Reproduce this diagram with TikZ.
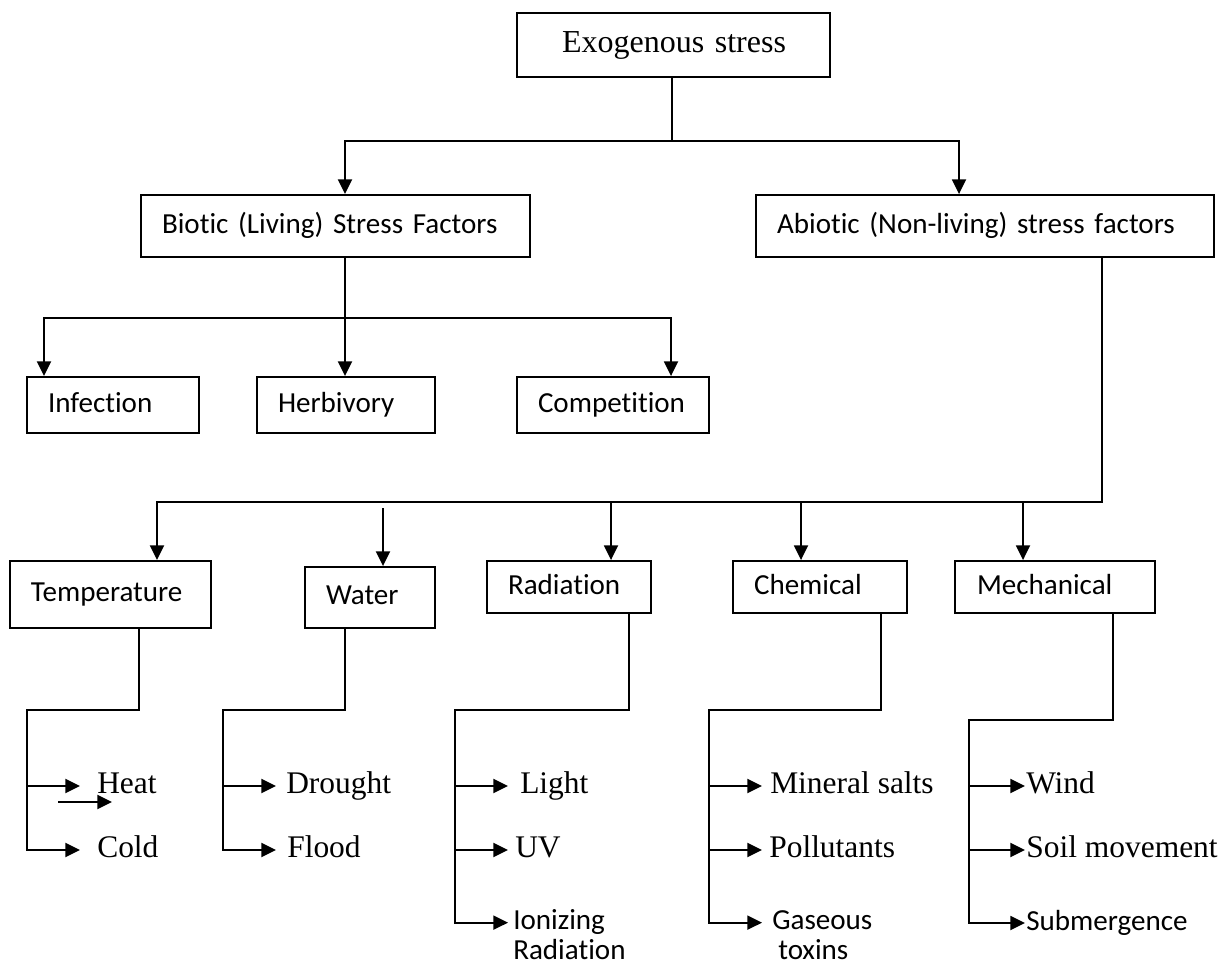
\documentclass[tikz,border=0pt]{standalone}
\usepackage{fontspec}
\setmainfont{Liberation Serif}
\newfontfamily\calfont[Ligatures=NoCommon]{Carlito}
\usetikzlibrary{arrows.meta}
\begin{document}
\begin{tikzpicture}[x=0.75pt, y=-0.75pt,
  ln/.style={line width=1.4pt},
  arr/.style={ln, -{Triangle[length=11pt,width=10.5pt]}},
  bx/.style={draw, line width=1.4pt, rectangle, inner ysep=0pt, align=left},
  tim/.style={font=\fontsize{23.6pt}{28.3pt}\selectfont},
  exof/.style={font=\fontsize{24pt}{28.8pt}\selectfont},
  cal/.style={font=\calfont\fontsize{21.8pt}{26.5pt}\selectfont},
  leaf/.style={inner ysep=0pt, anchor=west},
  leaf2/.style={inner ysep=0pt, anchor=north west, align=left}
]
\useasboundingbox (0,0) rectangle (1225,966);

% boxes
\node[bx, exof, minimum height=48pt, text width=167.25pt, inner xsep=33.75pt] (exo) at (673.5,45) {\mbox{\strut Exogenous stress}};
\node[bx, cal, minimum height=46.5pt, text width=260.25pt, inner xsep=15.75pt] (bio) at (335.5,226) {\mbox{\strut Biotic (Living) Stress Factors}};
\node[bx, cal, minimum height=46.5pt, text width=312pt, inner xsep=15.75pt] (abio) at (985,226) {\mbox{\strut Abiotic (Non-living) stress factors}};
\node[bx, cal, minimum height=42pt, text width=97.5pt, inner xsep=15.75pt] (inf) at (113,405) {\mbox{\strut Infection}};
\node[bx, cal, minimum height=42pt, text width=102pt, inner xsep=15.75pt] (herb) at (346,405) {\mbox{\strut Herbivory}};
\node[bx, cal, minimum height=42pt, text width=112.5pt, inner xsep=15.75pt] (comp) at (613,405) {\mbox{\strut Competition}};
\node[bx, cal, minimum height=50.25pt, text width=119.25pt, inner xsep=15.75pt] (temp) at (110.5,594.5) {\mbox{\strut Temperature}};
\node[bx, cal, minimum height=45.75pt, text width=66pt, inner xsep=15.75pt] (water) at (370,597.5) {\mbox{\strut Water}};
\node[bx, cal, minimum height=39pt, text width=91.5pt, inner xsep=15.75pt] (rad) at (569,587) {\mbox{\strut Radiation}};
\node[bx, cal, minimum height=39pt, text width=99pt, inner xsep=15.75pt] (chem) at (820,587) {\mbox{\strut Chemical}};
\node[bx, cal, minimum height=39pt, text width=117pt, inner xsep=16.5pt] (mech) at (1055,587) {\mbox{\strut Mechanical}};

% junction coordinates
\coordinate (t0) at (672,141);
\coordinate (bA) at (345,141);
\coordinate (aA) at (959,141);
\coordinate (b0) at (345,318);
\coordinate (bi) at (44,318);
\coordinate (bc) at (671,318);
\coordinate (a0) at (1102,502);
\coordinate (at) at (157,502);
\coordinate (ar) at (611,502);
\coordinate (ac) at (801,502);
\coordinate (am) at (1023,502);
\coordinate (aw) at (383,508);

% top level connectors
\draw[arr] (exo.south -| t0) -- (t0) -- (bA) -- (bA |- bio.north);
\draw[arr] (t0) -- (aA) -- (aA |- abio.north);
% biotic
\draw[arr] (bio.south -| b0) -- (b0) -- (bi) -- (bi |- inf.north);
\draw[arr] (b0) -- (herb.north -| b0);
\draw[arr] (b0) -- (bc) -- (bc |- comp.north);
% abiotic
\draw[arr] (abio.south -| a0) -- (a0) -- (at) -- (at |- temp.north);
\draw[arr] (ar) -- (ar |- rad.north);
\draw[arr] (ac) -- (ac |- chem.north);
\draw[arr] (am) -- (am |- mech.north);
\draw[arr] (aw) -- (aw |- water.north);

% leaf texts
\node[leaf, tim, inner xsep=12.75pt] (heat) at (80,786) {\strut Heat};
\node[leaf, tim, inner xsep=12.75pt] (cold) at (80,850) {\strut Cold};
\node[leaf, tim, inner xsep=7.5pt] (drought) at (276,786) {\strut Drought};
\node[leaf, tim, inner xsep=8.25pt] (flood) at (276,850) {\strut Flood};
\node[leaf, tim, inner xsep=9pt] (light) at (508,786) {\strut Light};
\node[leaf, tim, inner xsep=5.25pt] (uv) at (508,850) {\strut UV};
\node[leaf2, cal, inner xsep=3.75pt] (ion) at (508,904) {\strut Ionizing\\[-3.5pt]Radiation};
\node[leaf, tim, inner xsep=6pt] (mineral) at (762,786) {\strut Mineral salts};
\node[leaf, tim, inner xsep=5.25pt] (poll) at (762,850) {\strut Pollutants};
\node[leaf2, cal, inner xsep=7.5pt] (gas) at (762,904) {\strut Gaseous\\[-3.5pt]\hspace*{4.5pt}toxins};
\node[leaf, tim, inner xsep=0.75pt] (wind) at (1025,786) {\strut Wind};
\node[leaf, tim, inner xsep=0.75pt] (soil) at (1025,850) {\strut Soil movement};
\node[leaf, cal, inner xsep=0.75pt] (subm) at (1025,923) {\strut Submergence};

\coordinate (ionp) at ([yshift=-14pt]ion.north west);
\coordinate (gasp) at ([yshift=-14pt]gas.north west);

% lower stems
\coordinate (tS) at (139,710);
\coordinate (tV) at (27,710);
\coordinate (wS) at (345,710);
\coordinate (wV) at (223,710);
\coordinate (rS) at (629,710);
\coordinate (rV) at (455,710);
\coordinate (cS) at (881,710);
\coordinate (cV) at (709,710);
\coordinate (mS) at (1113,720);
\coordinate (mV) at (969,720);

\draw[arr] (temp.south -| tS) -- (tS) -- (tV) -- (tV |- cold.west) -- (cold.west);
\draw[arr] (tV |- heat.west) -- (heat.west);
\draw[arr] (water.south -| wS) -- (wS) -- (wV) -- (wV |- flood.west) -- (flood.west);
\draw[arr] (wV |- drought.west) -- (drought.west);
\draw[arr] (rad.south -| rS) -- (rS) -- (rV) -- (rV |- ionp) -- (ionp);
\draw[arr] (rV |- light.west) -- (light.west);
\draw[arr] (rV |- uv.west) -- (uv.west);
\draw[arr] (chem.south -| cS) -- (cS) -- (cV) -- (cV |- gasp) -- (gasp);
\draw[arr] (cV |- mineral.west) -- (mineral.west);
\draw[arr] (cV |- poll.west) -- (poll.west);
\draw[arr] (mech.south -| mS) -- (mS) -- (mV) -- (mV |- subm.west) -- (subm.west);
\draw[arr] (mV |- wind.west) -- (wind.west);
\draw[arr] (mV |- soil.west) -- (soil.west);

% stray arrow under Heat
\coordinate (sx1) at (58,802);
\coordinate (sx2) at (112,802);
\draw[arr] (sx1) -- (sx2);
\end{tikzpicture}
\end{document}
